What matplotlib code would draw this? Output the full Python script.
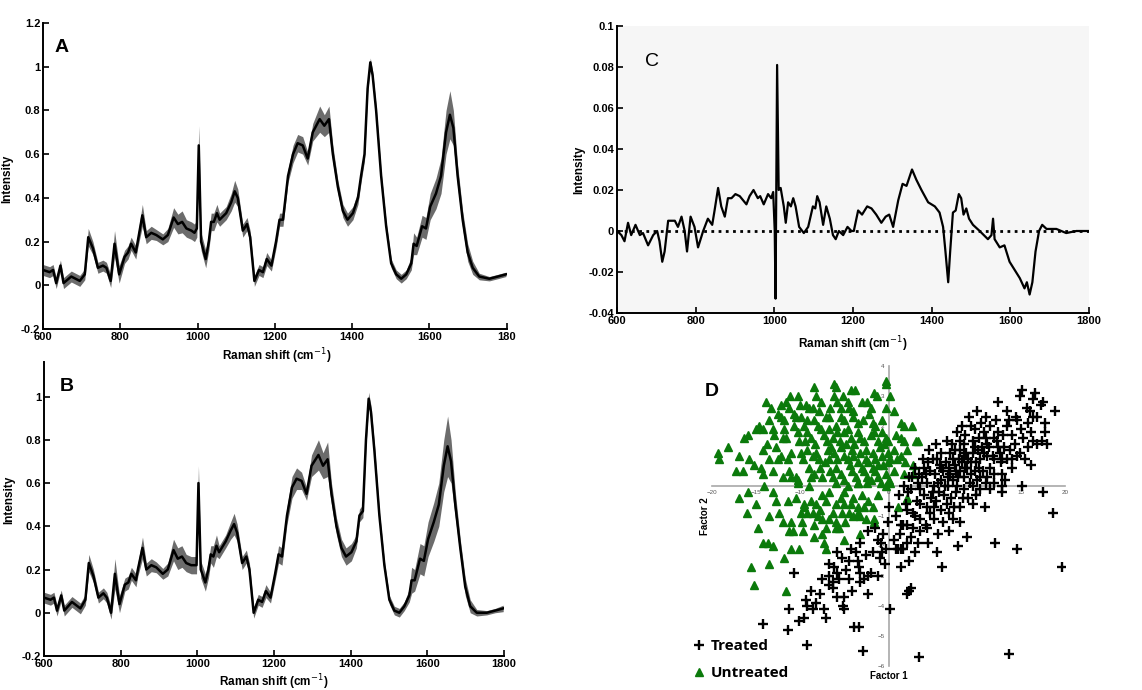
import numpy as np
import matplotlib
matplotlib.use('Agg')
from matplotlib import pyplot as plt
from matplotlib.lines import Line2D

plt.rcParams['font.family'] = ['Liberation Sans', 'DejaVu Sans']

# ---- spectra (panels A and B share the wavenumber grid) ----
wn = [600, 617, 626, 634, 645, 653, 673, 695, 708, 717, 729, 742, 755, 764, 775, 785, 797, 811, 820, 828,
      840, 845, 857, 867, 880, 893, 910, 923, 938, 949, 960, 971, 984, 992, 998, 1003, 1009, 1021, 1029, 1035,
      1042, 1050, 1057, 1074, 1087, 1096, 1104, 1117, 1128, 1136, 1147, 1159, 1169, 1179, 1191, 1203, 1212, 1221, 1234, 1247,
      1259, 1272, 1285, 1298, 1316, 1328, 1340, 1350, 1363, 1376, 1388, 1402, 1415, 1423, 1432, 1440, 1447, 1453, 1462, 1475,
      1488, 1501, 1514, 1527, 1540, 1553, 1559, 1567, 1581, 1591, 1602, 1617, 1630, 1643, 1653, 1662, 1673, 1686, 1699, 1712,
      1729, 1755, 1777, 1798]

mean_a = [0.07, 0.06, 0.07, 0.01, 0.09, 0.01, 0.04, 0.02, 0.05, 0.22, 0.17, 0.08, 0.09, 0.08, 0.02, 0.19, 0.05, 0.13, 0.15, 0.19,
          0.15, 0.20, 0.32, 0.22, 0.24, 0.23, 0.21, 0.23, 0.31, 0.28, 0.29, 0.26, 0.25, 0.24, 0.26, 0.64, 0.20, 0.12, 0.20, 0.29,
          0.29, 0.33, 0.30, 0.33, 0.38, 0.43, 0.40, 0.25, 0.28, 0.22, 0.02, 0.07, 0.06, 0.12, 0.09, 0.20, 0.30, 0.30, 0.50, 0.60,
          0.65, 0.64, 0.58, 0.70, 0.76, 0.73, 0.76, 0.60, 0.45, 0.34, 0.30, 0.33, 0.40, 0.50, 0.60, 0.90, 1.02, 0.96, 0.80, 0.50,
          0.27, 0.10, 0.05, 0.03, 0.05, 0.10, 0.19, 0.18, 0.27, 0.26, 0.36, 0.42, 0.50, 0.70, 0.78, 0.72, 0.50, 0.30, 0.15, 0.08,
          0.04, 0.03, 0.04, 0.05]

band_a = [0.025, 0.025, 0.025, 0.025, 0.025, 0.025, 0.025, 0.025, 0.025, 0.04, 0.03, 0.025, 0.025, 0.025, 0.03, 0.06, 0.04, 0.03, 0.03, 0.03,
          0.03, 0.03, 0.05, 0.03, 0.03, 0.025, 0.025, 0.03, 0.045, 0.045, 0.05, 0.04, 0.04, 0.04, 0.04, 0.09, 0.04, 0.04, 0.04, 0.04,
          0.04, 0.04, 0.03, 0.03, 0.04, 0.05, 0.04, 0.03, 0.03, 0.03, 0.025, 0.025, 0.025, 0.03, 0.025, 0.03, 0.03, 0.03, 0.03, 0.04,
          0.04, 0.04, 0.03, 0.04, 0.06, 0.05, 0.06, 0.04, 0.03, 0.03, 0.03, 0.03, 0.03, 0.03, 0.03, 0.02, 0.02, 0.02, 0.02, 0.02,
          0.02, 0.02, 0.02, 0.02, 0.02, 0.03, 0.05, 0.04, 0.05, 0.05, 0.06, 0.07, 0.08, 0.10, 0.11, 0.08, 0.05, 0.04, 0.04, 0.03,
          0.015, 0.01, 0.01, 0.01]

mean_b = [0.07, 0.06, 0.07, 0.01, 0.08, 0.01, 0.05, 0.02, 0.06, 0.23, 0.17, 0.07, 0.09, 0.07, 0.00, 0.18, 0.04, 0.13, 0.14, 0.18,
          0.15, 0.20, 0.30, 0.20, 0.22, 0.21, 0.18, 0.20, 0.29, 0.25, 0.26, 0.23, 0.22, 0.22, 0.22, 0.60, 0.20, 0.14, 0.20, 0.27,
          0.26, 0.31, 0.28, 0.33, 0.38, 0.41, 0.37, 0.23, 0.26, 0.20, 0.00, 0.06, 0.05, 0.10, 0.07, 0.18, 0.27, 0.26, 0.45, 0.58,
          0.62, 0.61, 0.55, 0.68, 0.73, 0.68, 0.71, 0.55, 0.40, 0.30, 0.26, 0.28, 0.33, 0.45, 0.47, 0.80, 0.99, 0.93, 0.75, 0.45,
          0.22, 0.06, 0.01, 0.00, 0.03, 0.08, 0.15, 0.15, 0.25, 0.24, 0.34, 0.42, 0.50, 0.68, 0.77, 0.70, 0.50, 0.30, 0.12, 0.03,
          0.00, 0.00, 0.01, 0.02]

band_b = [0.025, 0.025, 0.025, 0.025, 0.025, 0.025, 0.025, 0.025, 0.025, 0.04, 0.03, 0.025, 0.025, 0.025, 0.03, 0.07, 0.04, 0.03, 0.03, 0.03,
          0.03, 0.03, 0.05, 0.03, 0.03, 0.025, 0.025, 0.03, 0.05, 0.05, 0.05, 0.04, 0.04, 0.04, 0.04, 0.08, 0.04, 0.04, 0.04, 0.04,
          0.05, 0.05, 0.03, 0.03, 0.04, 0.05, 0.04, 0.03, 0.03, 0.03, 0.025, 0.025, 0.025, 0.03, 0.025, 0.03, 0.04, 0.04, 0.04, 0.05,
          0.05, 0.04, 0.03, 0.05, 0.07, 0.06, 0.08, 0.05, 0.04, 0.04, 0.04, 0.04, 0.03, 0.03, 0.03, 0.03, 0.03, 0.03, 0.03, 0.02,
          0.02, 0.02, 0.02, 0.02, 0.02, 0.03, 0.06, 0.05, 0.07, 0.07, 0.08, 0.09, 0.10, 0.12, 0.14, 0.10, 0.06, 0.04, 0.04, 0.03,
          0.015, 0.01, 0.01, 0.015]

# ---- difference spectrum (panel C) ----
wn_c = [600, 611, 619, 628, 636, 647, 658, 666, 679, 692, 702, 708, 715, 721, 730, 747, 755, 764, 772, 778,
        787, 797, 806, 819, 831, 842, 848, 857, 865, 874, 882, 891, 901, 912, 929, 937, 947, 958, 964, 973,
        984, 992, 997, 1001, 1003, 1007, 1011, 1016, 1024, 1029, 1035, 1042, 1048, 1054, 1063, 1075, 1086, 1098, 1104, 1109,
        1115, 1124, 1132, 1141, 1149, 1156, 1164, 1175, 1186, 1196, 1202, 1213, 1223, 1236, 1247, 1259, 1272, 1283, 1292, 1302,
        1315, 1326, 1336, 1350, 1361, 1374, 1391, 1408, 1420, 1429, 1435, 1442, 1447, 1454, 1461, 1469, 1475, 1481, 1488, 1495,
        1505, 1522, 1543, 1552, 1556, 1560, 1573, 1585, 1598, 1611, 1624, 1636, 1642, 1649, 1656, 1664, 1673, 1681, 1692, 1717,
        1742, 1768, 1800]
diff_c = [0.0, -0.002, -0.005, 0.004, -0.002, 0.003, -0.002, -0.001, -0.007, -0.002, 0.0, -0.005, -0.015, -0.01, 0.005, 0.005, 0.002, 0.007, 0.0, -0.01,
          0.007, 0.002, -0.008, 0.0, 0.006, 0.003, 0.01, 0.021, 0.012, 0.007, 0.016, 0.016, 0.018, 0.017, 0.013, 0.017, 0.02, 0.016, 0.017, 0.013,
          0.018, 0.016, 0.019, 0.0, -0.033, 0.081, 0.02, 0.021, 0.012, 0.004, 0.014, 0.012, 0.016, 0.012, 0.002, -0.001, 0.002, 0.012, 0.011, 0.017,
          0.014, 0.003, 0.012, 0.006, -0.002, -0.004, 0.0, -0.002, 0.002, 0.0, 0.0, 0.01, 0.008, 0.012, 0.011, 0.008, 0.004, 0.007, 0.008, 0.002,
          0.015, 0.023, 0.022, 0.03, 0.025, 0.02, 0.014, 0.012, 0.009, 0.002, -0.01, -0.025, -0.01, 0.009, 0.01, 0.018, 0.016, 0.008, 0.011, 0.006,
          0.003, 0.0, -0.004, -0.002, 0.006, -0.004, -0.008, -0.007, -0.015, -0.019, -0.023, -0.028, -0.025, -0.031, -0.025, -0.01, 0.0, 0.003, 0.001, 0.001,
          -0.001, 0.0, 0.0]

# ---- PCA scores (panel D): (factor 1, factor 2) ----
untreated = [
    (-0.3, 3.5), (-0.3, 3.4), (-6.2, 3.4), (-5.9, 3.3), (-8.4, 3.3), (-4.3, 3.2), (-3.8, 3.2),
    (-11.2, 3.0), (-10.3, 3.0), (-8.2, 3.0), (-6.2, 3.0), (-5.2, 3.0), (-1.7, 3.1), (-1.3, 3.0), (-2.4, 2.8),
    (-13.9, 2.8), (-13.3, 2.6), (-12.2, 2.7), (-11.6, 2.8), (-11.3, 2.6), (-9.4, 2.7), (-9.0, 2.6),
    (-7.7, 2.8), (-7.9, 2.5), (-5.8, 2.8), (-5.4, 2.6), (-4.6, 2.8), (-4.5, 2.6), (-4.0, 2.5), (-2.0, 2.6), (-0.3, 2.6),
    (-12.5, 2.4), (-12.2, 2.3), (-10.7, 2.4), (-10.5, 2.3), (-9.9, 2.3), (-9.2, 2.2), (-8.5, 2.2), (-7.1, 2.3), (-6.8, 2.3),
    (-5.4, 2.3), (-5.1, 2.2), (-4.0, 2.3), (-3.5, 2.1), (-1.8, 2.1), (-1.5, 2.0), (-0.7, 2.2),
    (-14.7, 2.0), (-14.2, 1.9), (-15.0, 1.9), (-13.1, 1.9), (-13.0, 1.7), (-11.9, 1.9), (-11.6, 1.6), (-12.0, 1.6),
    (-10.7, 2.0), (-10.3, 1.8), (-9.6, 2.0), (-9.2, 1.8), (-8.8, 1.6), (-8.0, 2.0), (-7.7, 1.9), (-7.3, 1.7),
    (-6.8, 1.9), (-6.3, 1.6), (-5.8, 1.8), (-5.1, 1.8), (-4.6, 1.9), (-4.3, 1.6), (-3.5, 1.8), (-3.2, 1.6), (-2.8, 1.5),
    (-2.0, 1.7), (-1.7, 1.8), (-1.2, 1.5), (-0.7, 1.8), (-0.3, 1.6), (-16.4, 1.6), (-15.9, 1.7), (-14.2, 1.2),
    (-12.5, 0.9), (-12.2, 1.0), (-11.4, 0.9), (-11.1, 1.1), (-9.9, 1.1), (-9.7, 0.9), (-9.2, 1.2),
    (-8.6, 1.0), (-8.2, 1.1), (-7.9, 0.9), (-6.9, 1.2), (-6.8, 0.9), (-6.2, 1.1), (-5.8, 0.9),
    (-5.4, 1.3), (-5.1, 1.0), (-4.6, 0.9), (-4.1, 1.2), (-4.0, 1.0), (-3.5, 0.8), (-3.2, 1.1),
    (-2.6, 0.9), (-2.3, 0.8), (-1.8, 1.1), (-1.5, 0.9), (-1.2, 0.7), (-0.7, 1.0), (-0.1, 1.1), (0.2, 0.9),
    (-19.3, 1.1), (-19.2, 0.9), (-18.2, 1.3), (-17.3, 0.5), (-16.5, 0.5), (-15.3, 0.7), (-14.5, 0.6), (-14.2, 0.4),
    (-13.1, 0.5), (-11.3, 0.5), (-10.5, 0.3), (-10.3, 0.2), (-8.8, 0.3), (-8.5, 0.4), (-7.5, 0.3), (-6.6, 0.5), (-6.3, 0.3),
    (-5.4, 0.4), (-5.1, 0.2), (-4.1, 0.5), (-3.7, 0.3), (-3.5, 0.1), (-2.8, 0.5), (-2.4, 0.3), (-2.0, 0.2),
    (-1.5, 0.5), (-1.2, 0.3), (-0.9, 0.1), (-0.3, 0.4), (0.0, 0.2),
    (-14.1, 0.0), (-10.3, 0.1), (-9.0, 0.0), (-6.0, 0.1), (-4.6, 0.0), (-3.5, 0.1), (-2.4, 0.1), (-0.3, 0.0),
    (-16.9, -0.4), (-15.9, -0.2), (-15.0, -0.6), (-13.1, -0.2), (-11.4, -0.5), (-10.5, -0.4), (-9.6, -0.6), (-8.8, -0.5),
    (-7.5, -0.3), (-7.1, -0.5), (-6.0, -0.6), (-5.4, -0.4), (-5.1, -0.6), (-4.3, -0.6), (-4.0, -0.4), (-3.5, -0.7),
    (-2.3, -0.5), (-1.8, -0.7), (-12.4, -0.9), (-12.0, -1.2), (-11.1, -1.2), (-10.8, -1.5), (-9.9, -0.9), (-9.6, -0.7),
    (-9.2, -0.9), (-8.6, -0.9), (-8.0, -1.0), (-7.5, -1.1), (-7.1, -1.4), (-6.3, -0.9), (-6.0, -1.2), (-5.6, -1.4),
    (-4.9, -1.2), (-4.5, -0.9), (-3.5, -0.9), (-3.2, -1.0), (-2.6, -1.1), (-1.7, -1.1), (-14.8, -1.4),
    (-14.2, -1.9), (-13.7, -1.9), (-13.1, -2.0), (-11.3, -1.5), (-11.1, -2.1), (-10.2, -2.1), (-9.7, -1.5), (-8.5, -1.7), (-7.5, -1.6),
    (-7.3, -1.9), (-7.1, -2.1), (-6.0, -1.4), (-5.1, -1.8), (-11.9, -2.4), (-15.6, -2.7), (-13.6, -2.6), (-15.3, -3.3), (-11.6, -3.5), (-3.2, -1.6),
    (0.2, 3.0), (0.6, 2.5), (1.4, 2.1), (2.7, 2.0), (3.1, 1.5), (0.8, 1.7), (1.4, 1.6), (1.7, 1.5), (2.1, 1.2), (-0.1, 1.5), (0.6, 1.2), (1.4, 1.0),
    (-0.1, 0.8), (1.0, 0.9), (1.9, 0.8), (2.8, 0.7), (0.6, 0.5), (1.7, 0.4), (2.8, 0.4), (0.2, 0.1), (1.7, 2.0), (3.3, 1.5), (2.1, -0.4), (1.1, -0.7), (-1.7, -1.2),
    (-9.5, 1.5), (-8.3, 1.4), (-7.0, 1.5), (-6.5, 1.3), (-5.5, 1.5), (-4.8, 1.4), (-3.9, 1.4), (-2.5, 1.2), (-1.0, 1.3), (-0.5, 1.4),
    (-9.0, 0.6), (-7.8, 0.6), (-7.2, 0.8), (-5.9, 0.6), (-4.4, 0.7), (-3.0, 0.6), (-1.8, 0.6), (-0.6, 0.7), (-2.9, 2.2), (-2.2, 2.4),
    (-3.0, 2.8), (-6.6, 2.6), (-8.6, 2.6), (-10.0, 2.7), (-11.8, 2.2), (-13.5, 2.2), (-13.8, 1.4), (-12.8, 1.3), (-10.1, 1.5), (-6.0, 2.0),
    (-5.0, -0.2), (-3.0, -0.3), (-1.2, -0.3), (-6.8, -0.2), (-8.2, -0.6), (-7.8, -0.8), (-4.0, -1.0), (-5.3, -0.9), (-2.8, -0.7), (-6.7, -1.1),
    (-9.8, -1.2), (-8.4, -1.3), (-12.8, -0.5), (-13.6, -1.0), (-16.0, -0.9), (-11.0, 0.3), (-12.0, 0.3), (-15.8, 0.9), (-17.0, 1.0), (-13.5, 0.9),
]

treated = [
    (14.9, 3.0), (16.6, 3.1), (16.4, 2.9), (17.5, 2.8), (18.9, 2.5), (12.4, 2.8), (13.4, 2.5), (13.6, 2.2), (13.4, 2.0), (14.6, 2.2),
    (15.7, 2.6), (16.0, 2.5), (16.4, 2.3), (16.8, 2.3), (17.7, 2.1), (17.7, 1.8), (9.8, 1.9), (11.5, 2.0), (12.4, 1.8), (14.0, 1.7),
    (8.1, 1.5), (9.6, 1.5), (9.8, 1.3), (11.2, 1.4), (12.3, 1.5), (12.4, 1.3), (16.4, 1.5), (16.8, 1.4), (15.8, 1.3), (18.0, 1.4),
    (14.9, 1.1), (14.6, 1.0), (16.2, 0.7), (6.0, 1.1), (7.0, 1.1), (8.1, 1.2), (8.5, 1.0), (9.0, 0.9), (9.6, 1.1),
    (10.4, 0.9), (11.2, 1.0), (11.9, 0.9), (12.7, 0.8), (13.4, 0.9), (14.0, 0.6), (4.7, 0.5), (5.3, 0.4), (6.2, 0.5),
    (6.7, 0.3), (7.0, 0.4), (7.3, 0.2), (8.1, 0.5), (8.5, 0.3), (8.9, 0.6), (9.3, 0.4), (9.8, 0.5),
    (10.4, 0.3), (10.7, 0.5), (11.5, 0.6), (11.9, 0.4), (12.9, 0.4), (13.2, 0.2), (3.3, 0.1), (3.6, -0.1), (4.4, 0.1), (5.1, 0.0), (5.6, 0.1),
    (2.5, -0.1), (6.7, 0.0), (7.8, 0.0), (8.5, -0.1), (9.6, 0.0), (10.4, -0.1), (11.5, -0.1), (12.9, 0.0), (17.5, -0.2),
    (15.1, 3.2), (17.3, 2.7), (14.4, 2.3), (15.8, 2.1), (17.4, 1.5), (10.1, 1.2), (11.8, 1.0), (12.9, 0.9), (12.9, -0.2), (14.0, 0.9), (15.1, 0.0),
    (18.6, -0.9), (12.1, -1.9), (14.6, -2.1), (19.7, -2.7), (13.6, -5.6), (3.4, -5.7), (-2.9, -5.5), (-9.2, -5.3), (-11.4, -4.8),
    (-3.9, -4.7), (-3.4, -4.7), (0.2, -4.1), (-11.3, -4.1), (-10.2, -4.5), (-9.6, -4.4), (-9.2, -4.0), (-8.6, -4.1), (-8.2, -3.9),
    (-7.3, -4.1), (-7.1, -4.4), (-5.2, -4.0), (-2.3, -3.6), (2.1, -3.6), (2.5, -3.4), (-8.8, -3.5), (-6.3, -3.4), (-5.8, -3.7), (-5.1, -3.7),
    (-7.5, -3.1), (-6.8, -3.3), (-6.3, -3.2), (-5.6, -3.1), (-4.5, -3.1), (-3.2, -3.2), (-2.8, -3.1), (-2.3, -3.0), (-10.7, -2.9),
    (-6.8, -2.6), (-6.2, -2.7), (-5.8, -2.9), (-3.4, -2.7), (-3.2, -2.9), (-2.0, -2.9), (-4.5, -2.5), (-3.5, -2.5), (-5.8, -2.2),
    (-4.3, -2.1), (-3.7, -2.2), (-3.2, -1.9), (-1.8, -2.2), (-1.2, -1.8), (-0.9, -1.9), (-0.3, -2.1), (0.6, -1.8), (0.8, -2.1),
    (1.4, -2.1), (2.1, -1.9), (2.3, -2.5), (3.3, -1.9), (1.4, -2.7), (-2.3, -1.5), (-1.5, -1.4), (-0.6, -1.6), (-0.1, -1.2),
    (1.4, -1.3), (2.1, -1.3), (2.8, -1.4), (3.6, -1.5), (4.2, -1.3), (4.5, -1.9), (5.6, -1.6), (6.2, -1.2), (5.5, -2.2), (6.1, -2.7),
    (7.9, -2.0), (8.9, -1.7), (7.3, -1.1), (8.1, -1.2), (0.0, -0.7), (2.1, -0.8), (2.8, -0.9), (3.6, -0.6), (4.7, -0.9), (5.9, -0.8),
    (6.8, -0.9), (3.6, -1.1), (4.4, -1.4), (5.1, -1.1), (8.1, -0.7), (9.6, -0.6), (10.9, -0.7),
    (1.6, -1.3), (-0.7, -2.2), (1.1, -2.1), (1.6, -2.1), (2.3, -3.5), (-5.1, -4.1), (-14.2, -4.6),
    (3.0, 0.6), (3.8, 0.3), (4.5, 0.8), (5.0, 0.9), (5.8, 0.7), (6.5, 0.8), (7.5, 0.7), (4.0, -0.3), (4.8, -0.4), (5.4, -0.5),
    (6.3, -0.3), (7.1, -0.4), (7.6, 0.5), (3.2, -0.5), (7.8, 1.8), (8.7, 1.7), (10.2, 1.6), (10.8, 1.8), (10.6, 1.3), (11.0, 2.3),
    (8.3, 2.0), (9.1, 2.3), (10.0, 2.5), (7.2, 1.4), (5.4, 1.4), (4.6, 1.2), (3.9, 0.9), (2.7, 0.3), (2.2, -0.2), (1.8, 0.0),
    (6.9, -1.5), (7.6, -0.2), (9.0, -0.4), (10.0, 0.2), (11.0, 0.1), (8.0, 0.9), (6.0, 0.2), (4.2, 0.4), (3.0, -1.0), (5.0, -0.2),
    (5.5, 0.9), (6.0, 0.6), (6.8, 0.6), (7.3, 0.9), (8.3, 0.8), (8.8, 1.1), (9.3, 0.8), (9.9, 0.8), (10.3, 0.6), (10.8, 1.1),
    (11.4, 1.3), (11.9, 1.6), (12.6, 1.1), (13.1, 1.3), (13.8, 1.2), (14.3, 1.4), (15.2, 1.6), (15.5, 0.9), (12.0, 0.1), (11.2, 0.3),
    (9.2, 0.1), (8.7, 0.6), (7.9, 0.3), (6.4, 0.0), (5.7, -0.2), (4.4, -0.7), (5.2, -0.7), (6.6, -0.6), (7.4, -0.7), (8.4, -0.4),
    (9.9, -0.3), (4.0, 0.6), (3.4, 0.4), (2.3, 0.3), (2.0, -0.6), (1.2, -0.3), (0.8, -1.0), (1.3, -1.6), (2.6, -1.7), (3.0, -2.2),
    (-0.4, -2.6), (-1.0, -2.4), (-2.6, -2.3), (-4.8, -2.8), (-5.3, -2.4), (-6.7, -3.0), (-7.8, -3.6), (-9.4, -3.8), (-4.1, -3.5), (-1.2, -3.0),
    (9.4, 2.0), (10.5, 2.1), (12.2, 2.2), (13.0, 1.7), (15.0, 1.9), (16.1, 1.8), (11.1, 1.6), (8.6, 1.4), (7.5, 1.2), (6.6, 1.5),
]

wn_ticks = [600, 800, 1000, 1200, 1400, 1600, 1800]
green = '#0b7a0b'
band_gray = '#6c6c6c'
tick_font = dict(fontsize=8, fontweight='bold')

fig = plt.figure(figsize=(11.42, 6.9), dpi=100)


def style_spectrum_axes(ax, yticks, ylabels):
    ax.spines['top'].set_visible(False)
    ax.spines['right'].set_visible(False)
    for s in ('left', 'bottom'):
        ax.spines[s].set_linewidth(1.4)
    ax.tick_params(direction='in', length=4, width=1.2, pad=2)
    ax.set_xlim(600, 1800)
    ax.set_xticks(wn_ticks)
    ax.set_yticks(yticks)
    ax.set_yticklabels(ylabels, **tick_font)
    ax.set_xlabel('Raman shift (cm$^{-1}$)', fontsize=8.5, fontweight='bold')
    ax.set_ylabel('Intensity', fontsize=8.5, fontweight='bold')


# Panel A
ax_a = fig.add_axes([0.0377, 0.5232, 0.406, 0.4435])
ax_a.fill_between(wn, np.array(mean_a) - band_a, np.array(mean_a) + band_a, color=band_gray, lw=0)
ax_a.plot(wn, mean_a, color='black', lw=1.8)
ax_a.set_ylim(-0.2, 1.2)
style_spectrum_axes(ax_a, [-0.2, 0, 0.2, 0.4, 0.6, 0.8, 1, 1.2],
                    ['-0.2', '0', '0.2', '0.4', '0.6', '0.8', '1', '1.2'])
ax_a.set_xticklabels(['600', '800', '1000', '1200', '1400', '1600', '180'], **tick_font)
ax_a.xaxis.set_label_coords(0.504, -0.058)
ax_a.yaxis.set_label_coords(-0.065, 0.49)
ax_a.text(0.025, 0.905, 'A', transform=ax_a.transAxes, fontsize=14, fontweight='bold')

# Panel B
ax_b = fig.add_axes([0.0385, 0.0493, 0.4028, 0.4261])
ax_b.fill_between(wn, np.array(mean_b) - band_b, np.array(mean_b) + band_b, color=band_gray, lw=0)
ax_b.plot(wn, mean_b, color='black', lw=1.8)
ax_b.set_ylim(-0.2, 1.16)
style_spectrum_axes(ax_b, [-0.2, 0, 0.2, 0.4, 0.6, 0.8, 1],
                    ['-0.2', '0', '0.2', '0.4', '0.6', '0.8', '1'])
ax_b.set_xticklabels([str(t) for t in wn_ticks], **tick_font)
ax_b.xaxis.set_label_coords(0.5, -0.055)
ax_b.yaxis.set_label_coords(-0.062, 0.53)
ax_b.text(0.035, 0.9, 'B', transform=ax_b.transAxes, fontsize=14, fontweight='bold')

# Panel C
ax_c = fig.add_axes([0.5403, 0.5464, 0.4133, 0.4159])
ax_c.set_facecolor('#f6f6f6')
ax_c.axhline(0, color='black', lw=2, ls=(0, (1, 1.6)))
ax_c.plot(wn_c, diff_c, color='black', lw=1.6)
ax_c.set_ylim(-0.04, 0.1)
style_spectrum_axes(ax_c, [-0.04, -0.02, 0, 0.02, 0.04, 0.06, 0.08, 0.1],
                    ['-0.04', '-0.02', '0', '0.02', '0.04', '0.06', '0.08', '0.1'])
ax_c.set_xticklabels([str(t) for t in wn_ticks], **tick_font)
ax_c.xaxis.set_label_coords(0.5, -0.075)
ax_c.yaxis.set_label_coords(-0.068, 0.5)
ax_c.text(0.06, 0.86, 'C', transform=ax_c.transAxes, fontsize=14)

# Panel D
ax_d = fig.add_axes([0.6235, 0.0348, 0.3091, 0.4348])
ux, uy = zip(*untreated)
tx, ty = zip(*treated)
ax_d.plot(ux, uy, ls='none', marker='^', ms=6, color=green, mec=green)
ax_d.plot(tx, ty, ls='none', marker='+', ms=7.5, mew=1.7, color='black')
ax_d.set_xlim(-20, 20)
ax_d.set_ylim(-6, 4)
for s in ('top', 'right'):
    ax_d.spines[s].set_visible(False)
ax_d.spines['left'].set_position(('data', 0))
ax_d.spines['bottom'].set_position(('data', 0))
for s in ('left', 'bottom'):
    ax_d.spines[s].set_color('#a8a8a8')
    ax_d.spines[s].set_linewidth(1.2)
    ax_d.spines[s].set_zorder(0)
ax_d.set_xticks([-20, -15, -10, -5, 0, 5, 10, 15, 20])
ax_d.set_yticks([-6, -5, -4, -3, -2, -1, 0, 1, 2, 3, 4])
ax_d.tick_params(length=0, labelsize=4.5, labelcolor='#555555', pad=3)
ax_d.set_facecolor('none')
ax_d.text(0.5, -0.035, 'Factor 1', transform=ax_d.transAxes, ha='center', va='center',
          fontsize=7, fontweight='bold')
ax_d.text(-0.02, 0.5, 'Factor 2', transform=ax_d.transAxes, ha='center', va='center',
          rotation=90, fontsize=7, fontweight='bold')
ax_d.text(-0.02, 0.9, 'D', transform=ax_d.transAxes, fontsize=14, fontweight='bold')

handles = [Line2D([], [], ls='none', marker='+', ms=7.5, mew=1.7, color='black'),
           Line2D([], [], ls='none', marker='^', ms=6, color=green)]
fig.legend(handles, ['Treated', 'Untreated'], loc='lower left', bbox_to_anchor=(0.596, -0.006),
           frameon=False, handlelength=0.6, handletextpad=0.5, labelspacing=0.85,
           prop=dict(size=11, weight='bold', family='Open Sans'))

fig.savefig('out.png', dpi=100)
